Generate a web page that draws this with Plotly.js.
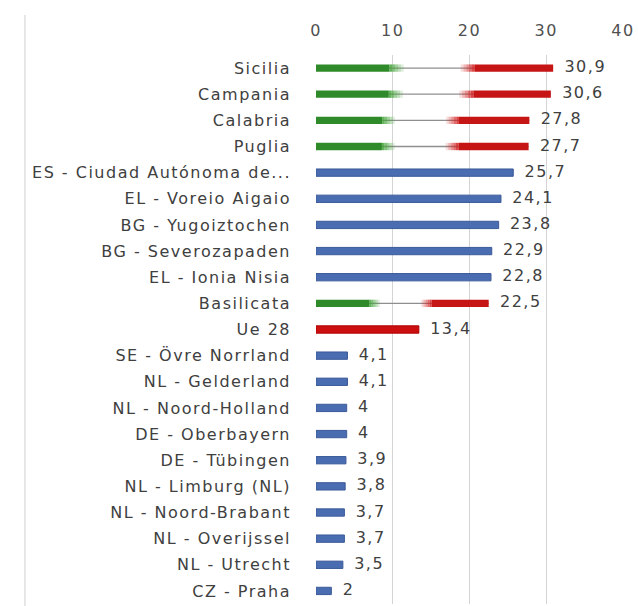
<!DOCTYPE html>
<html>
<head>
<meta charset="utf-8">
<script src="https://cdn.plot.ly/plotly-3.0.1.min.js"></script>
<style>
html,body{margin:0;padding:0;background:#fff;}
#chart{width:638px;height:606px;}
#chart .ytick text{letter-spacing:1.5px;}
#chart .xtick text{letter-spacing:1.5px;}
#chart .textpoint text{letter-spacing:1.5px;}
</style>
</head>
<body>
<div id="chart"></div>
<script>
var categories = ["Sicilia","Campania","Calabria","Puglia","ES - Ciudad Autónoma de...","EL - Voreio Aigaio","BG - Yugoiztochen","BG - Severozapaden","EL - Ionia Nisia","Basilicata","Ue 28","SE - Övre Norrland","NL - Gelderland","NL - Noord-Holland","DE - Oberbayern","DE - Tübingen","NL - Limburg (NL)","NL - Noord-Brabant","NL - Overijssel","NL - Utrecht","CZ - Praha"];
var values = [30.9,30.6,27.8,27.7,25.7,24.1,23.8,22.9,22.8,22.5,13.4,4.1,4.1,4,4,3.9,3.8,3.7,3.7,3.5,2];
var groups = ["it","it","it","it","eu","eu","eu","eu","eu","it","ue","eu","eu","eu","eu","eu","eu","eu","eu","eu","eu"];
var tickValues = [0,10,20,30,40];

var BW = 0.28;
function pick(g, f){ return values.map(function(v,i){ return groups[i]===g ? f(v) : null; }); }

var traces = [];
traces.push({type:'bar', orientation:'h', y:categories, x:pick('eu',function(v){return v;}), width:BW,
  marker:{color:'#4a6cb0', line:{color:'#3b5a99', width:1}}, hoverinfo:'none'});
traces.push({type:'bar', orientation:'h', y:categories, x:pick('ue',function(v){return v;}), width:BW,
  marker:{color:'#cc1010', line:{color:'#b00000', width:1}}, hoverinfo:'none'});
traces.push({type:'bar', orientation:'h', y:categories, x:pick('it',function(v){return v;}), width:0.05,
  marker:{color:'#8f8f8f'}, hoverinfo:'none'});
traces.push({type:'bar', orientation:'h', y:categories, x:pick('it',function(v){return v*0.31;}), base:0, width:BW,
  marker:{color:'#2f8a2a'}, hoverinfo:'none'});
var steps = 5;
for (var s=0; s<steps; s++){
  (function(s){
    var a = 0.85 - s*0.17;
    traces.push({type:'bar', orientation:'h', y:categories,
      x:pick('it',function(v){return v*0.012;}),
      base:pick('it',function(v){return v*(0.31+s*0.012);}), width:BW,
      marker:{color:'rgba(70,165,60,'+a+')'}, hoverinfo:'none'});
    var b = 0.15 + s*0.17;
    traces.push({type:'bar', orientation:'h', y:categories,
      x:pick('it',function(v){return v*0.012;}),
      base:pick('it',function(v){return v*(0.61+s*0.012);}), width:BW,
      marker:{color:'rgba(210,30,30,'+b+')'}, hoverinfo:'none'});
  })(s);
}
traces.push({type:'bar', orientation:'h', y:categories, x:pick('it',function(v){return v*(1-0.67);}),
  base:pick('it',function(v){return v*0.67;}), width:BW,
  marker:{color:'#c51515'}, hoverinfo:'none'});
traces.push({type:'scatter', mode:'text', y:categories, x:values,
  text:values.map(function(v){return ' \u2009'+String(v).replace('.',',');}),
  textposition:'middle right', textfont:{family:'DejaVu Sans', size:16, color:'#404040'},
  hoverinfo:'none', cliponaxis:false});

var layout = {
  width:638, height:606,
  margin:{l:316, r:15, t:55, b:2},
  barmode:'overlay',
  showlegend:false,
  paper_bgcolor:'#fff', plot_bgcolor:'#fff',
  font:{family:'DejaVu Sans', size:16, color:'#404040'},
  xaxis:{side:'top', range:[0,40], tickvals:tickValues, ticktext:tickValues.map(String),
    showgrid:true, gridcolor:'#d4d4d4', gridwidth:1, zeroline:false, showline:false, ticks:'',
    ticklabelstandoff:15, tickfont:{family:'DejaVu Sans', size:16, color:'#505050'}, fixedrange:true},
  yaxis:{type:'category', categoryorder:'array', categoryarray:categories, range:[categories.length-0.5,-0.5],
    showgrid:false, zeroline:false, showline:false, ticks:'', ticklabelstandoff:24,
    tickfont:{family:'DejaVu Sans', size:16, color:'#404040'}, fixedrange:true},
  shapes:[
    {type:'line', xref:'paper', yref:'paper', x0:-0.948, x1:-0.948, y0:-0.01, y1:1.073, line:{color:'#d0d0d0', width:1}}
  ]
};
Plotly.newPlot('chart', traces, layout, {displayModeBar:false, staticPlot:true});
</script>
</body>
</html>
